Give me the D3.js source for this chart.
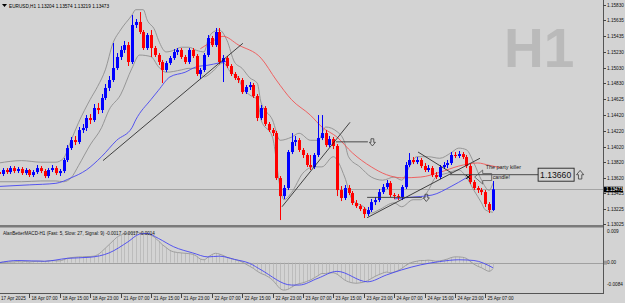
<!DOCTYPE html>
<html>
<head>
<meta charset="utf-8">
<script src="https://cdn.jsdelivr.net/npm/d3@7"></script>
<style>
  html, body { margin: 0; padding: 0; background: #d3d3d3; }
  svg { display: block; font-family: "Liberation Sans", Arial, sans-serif; }
</style>
</head>
<body>
<svg id="chart" width="625" height="303"></svg>
<script>
// EURUSD H1 candles, 17 Apr 23:00 .. 25 Apr 09:00 (131 bars)
const openP = [
  1.13694,1.13669,1.13720,1.13694,1.13745,1.13707,1.13733,1.13681,1.13720,1.13656,
  1.13694,1.13745,1.13707,1.13643,1.13720,1.13745,1.13681,1.13707,1.13848,1.14001,
  1.14103,1.14078,1.14231,1.14257,1.14385,1.14359,1.14513,1.14487,1.14641,1.14769,
  1.14871,1.15024,1.15165,1.15255,1.15318,1.15101,1.15574,1.15613,1.15485,1.15280,
  1.15446,1.15280,1.15191,1.15101,1.14999,1.15088,1.15152,1.15229,1.15255,1.15165,
  1.15101,1.15255,1.15178,1.14948,1.14999,1.15191,1.15408,1.15318,1.15485,1.15101,
  1.15152,1.15050,1.14948,1.14896,1.14871,1.14717,1.14781,1.14807,1.14666,1.14385,
  1.14513,1.14308,1.14231,1.14193,1.13617,1.13387,1.13490,1.13950,1.14078,1.14103,
  1.13976,1.13912,1.13784,1.13758,1.13912,1.14129,1.14193,1.14039,1.14116,1.14027,
  1.13464,1.13362,1.13490,1.13426,1.13298,1.13259,1.13221,1.13157,1.13208,1.13310,
  1.13336,1.13438,1.13502,1.13553,1.13400,1.13387,1.13374,1.13502,1.13784,1.13848,
  1.13822,1.13848,1.13771,1.13720,1.13745,1.13656,1.13630,1.13758,1.13784,1.13809,
  1.13912,1.13899,1.13924,1.13886,1.13771,1.13566,1.13490,1.13464,1.13438,1.13285,
  1.13208
];
const highP = [
  1.13733,1.13745,1.13745,1.13771,1.13771,1.13758,1.13758,1.13745,1.13733,1.13720,
  1.13784,1.13771,1.13733,1.13745,1.13784,1.13771,1.13733,1.13873,1.14039,1.14142,
  1.14155,1.14270,1.14308,1.14423,1.14436,1.14564,1.14577,1.14692,1.14820,1.14922,
  1.15344,1.15216,1.15306,1.15370,1.15357,1.15702,1.15651,1.15740,1.15510,1.15472,
  1.15510,1.15306,1.15216,1.15127,1.15114,1.15178,1.15267,1.15280,1.15280,1.15191,
  1.15280,1.15280,1.15203,1.15024,1.15216,1.15446,1.15434,1.15536,1.15536,1.15191,
  1.15178,1.15075,1.14973,1.14922,1.14896,1.14807,1.14845,1.14832,1.14692,1.14551,
  1.14538,1.14334,1.14257,1.14219,1.13643,1.13528,1.13976,1.14193,1.14155,1.14129,
  1.14001,1.13937,1.13912,1.13937,1.14423,1.14423,1.14231,1.14155,1.14142,1.14052,
  1.13515,1.13528,1.13528,1.13451,1.13336,1.13285,1.13247,1.13247,1.13349,1.13374,
  1.13477,1.13541,1.13592,1.13579,1.13426,1.13413,1.13528,1.13822,1.13937,1.13886,
  1.13886,1.13873,1.13809,1.13784,1.13771,1.13694,1.13784,1.13822,1.13848,1.13950,
  1.13950,1.13963,1.13950,1.13912,1.13796,1.13592,1.13515,1.13490,1.13464,1.13310,
  1.13579
];
const lowP = [
  1.13630,1.13643,1.13669,1.13669,1.13681,1.13681,1.13656,1.13656,1.13630,1.13630,
  1.13669,1.13681,1.13617,1.13617,1.13694,1.13656,1.13643,1.13681,1.13822,1.13976,
  1.14039,1.14052,1.14193,1.14219,1.14308,1.14334,1.14436,1.14449,1.14615,1.14730,
  1.14845,1.14999,1.15127,1.15216,1.15050,1.15075,1.15536,1.15459,1.15255,1.15255,
  1.15165,1.15165,1.15063,1.14832,1.14973,1.15063,1.15127,1.15191,1.15139,1.15075,
  1.15075,1.15152,1.14922,1.14884,1.14973,1.15165,1.15293,1.15293,1.15075,1.14845,
  1.15024,1.14922,1.14871,1.14832,1.14692,1.14692,1.14743,1.14641,1.14346,1.14359,
  1.14283,1.14206,1.14155,1.13592,1.13080,1.13349,1.13464,1.13924,1.14027,1.13950,
  1.13873,1.13758,1.13720,1.13733,1.13886,1.14103,1.14014,1.14014,1.13988,1.13387,
  1.13323,1.13336,1.13400,1.13272,1.13234,1.13195,1.13106,1.13131,1.13183,1.13272,
  1.13310,1.13413,1.13477,1.13374,1.13349,1.13336,1.13336,1.13477,1.13758,1.13796,
  1.13796,1.13745,1.13694,1.13694,1.13630,1.13605,1.13605,1.13733,1.13745,1.13784,
  1.13873,1.13873,1.13860,1.13745,1.13541,1.13464,1.13426,1.13400,1.13247,1.13170,
  1.13195
];
const closeP = [
  1.13669,1.13720,1.13694,1.13745,1.13707,1.13733,1.13681,1.13720,1.13656,1.13694,
  1.13745,1.13707,1.13643,1.13720,1.13745,1.13681,1.13707,1.13848,1.14001,1.14103,
  1.14078,1.14231,1.14257,1.14385,1.14359,1.14513,1.14487,1.14641,1.14769,1.14871,
  1.15024,1.15165,1.15255,1.15318,1.15101,1.15574,1.15613,1.15485,1.15280,1.15446,
  1.15280,1.15191,1.15101,1.14999,1.15088,1.15152,1.15229,1.15255,1.15165,1.15101,
  1.15255,1.15178,1.14948,1.14999,1.15191,1.15408,1.15318,1.15485,1.15101,1.15152,
  1.15050,1.14948,1.14896,1.14871,1.14717,1.14781,1.14807,1.14666,1.14385,1.14513,
  1.14308,1.14231,1.14193,1.13617,1.13387,1.13490,1.13950,1.14078,1.14103,1.13976,
  1.13912,1.13784,1.13758,1.13912,1.14129,1.14193,1.14039,1.14116,1.14027,1.13464,
  1.13362,1.13490,1.13426,1.13298,1.13259,1.13221,1.13157,1.13208,1.13310,1.13336,
  1.13438,1.13502,1.13553,1.13400,1.13387,1.13374,1.13502,1.13784,1.13848,1.13822,
  1.13848,1.13771,1.13720,1.13745,1.13656,1.13630,1.13758,1.13784,1.13809,1.13912,
  1.13899,1.13924,1.13886,1.13771,1.13566,1.13490,1.13464,1.13438,1.13285,1.13208,
  1.13473
];

// indicator lines: [bar index, price]
const bandUpper = [[0,1.1381],[6,1.1384],[11,1.1382],[15,1.1382],[17,1.1387],[19,1.1410],[21,1.1433],[24,1.1462],[26,1.1479],[28,1.1500],[30,1.1534],[32,1.1551],[35,1.1570],[36,1.1577],[38,1.1577],[39,1.1564],[41,1.1551],[42,1.1538],[44,1.1523],[46,1.1525],[48,1.1529],[50,1.1529],[52,1.1525],[54,1.1523],[55,1.1538],[56,1.1547],[58,1.1551],[60,1.1538],[62,1.1510],[64,1.1502],[66,1.1490],[68,1.1483],[69,1.1458],[72,1.1436],[74,1.1410],[77,1.1414],[79,1.1419],[82,1.1410],[84,1.1410],[86,1.1427],[89,1.1421],[91,1.1407],[92,1.1389],[95,1.1376],[98,1.1363],[101,1.1359],[104,1.1363],[106,1.1359],[108,1.1376],[110,1.1389],[113,1.1389],[116,1.1387],[119,1.1394],[121,1.1400],[123,1.1398],[125,1.1381],[127,1.1359],[129,1.1346],[130,1.1355]];
const bandLower = [[0,1.1357],[6,1.1357],[11,1.1358],[15,1.1358],[17,1.1357],[19,1.1362],[21,1.1378],[24,1.1404],[27,1.1426],[29,1.1449],[32,1.1468],[35,1.1502],[37,1.1519],[40,1.1517],[42,1.1504],[44,1.1497],[48,1.1500],[50,1.1502],[52,1.1502],[54,1.1491],[56,1.1497],[59,1.1509],[61,1.1497],[63,1.1490],[64,1.1478],[66,1.1468],[68,1.1462],[69,1.1436],[72,1.1414],[74,1.1350],[75,1.1334],[77,1.1343],[80,1.1368],[83,1.1376],[85,1.1376],[88,1.1389],[91,1.1363],[93,1.1334],[96,1.1325],[98,1.1317],[100,1.1321],[104,1.1330],[106,1.1325],[109,1.1334],[111,1.1334],[113,1.1346],[115,1.1363],[118,1.1368],[121,1.1372],[123,1.1363],[125,1.1346],[127,1.1330],[128,1.1321],[130,1.1318]];
const redLine = [[53,1.1527],[56,1.1536],[59,1.1543],[63,1.1532],[69,1.1515],[73,1.1487],[77,1.1462],[82,1.1442],[85,1.1427],[89,1.1414],[93,1.1394],[98,1.1376],[102,1.1366],[106,1.1362],[111,1.1363],[116,1.1369],[121,1.1377],[126,1.1381],[129,1.1378],[132,1.1375]];
const blueLine1 = [[0,1.1351],[8,1.1353],[15,1.1355],[19,1.1362],[23,1.1372],[27,1.1389],[31,1.1410],[35,1.1426],[36,1.1436],[40,1.1462],[42,1.1474],[45,1.1491],[49,1.1497],[52,1.1504],[55,1.1506],[58,1.1509],[60,1.1511]];
const blueLine2 = [[104,1.1335],[108,1.1337],[114,1.1340],[119,1.1351],[123,1.1362]];

// MACD (5, 27, 9): main per bar, signal read at points
const macdMain = [
  0.0000,0.0001,0.0001,0.0002,0.0002,0.0003,0.0002,0.0003,0.0002,0.0003,
  0.0004,0.0004,0.0003,0.0005,0.0006,0.0005,0.0005,0.0008,0.0012,0.0014,
  0.0015,0.0016,0.0016,0.0017,0.0017,0.0018,0.0022,0.0030,0.0040,0.0050,
  0.0060,0.0070,0.0076,0.0080,0.0082,0.0083,0.0084,0.0083,0.0081,0.0079,
  0.0076,0.0070,0.0060,0.0050,0.0042,0.0034,0.0030,0.0028,0.0027,0.0026,
  0.0025,0.0023,0.0018,0.0010,0.0008,0.0015,0.0022,0.0026,0.0024,0.0020,
  0.0015,0.0012,0.0009,0.0006,0.0002,-0.0004,-0.0010,-0.0016,-0.0024,-0.0030,
  -0.0034,-0.0040,-0.0048,-0.0060,-0.0072,-0.0076,-0.0074,-0.0068,-0.0062,-0.0058,
  -0.0056,-0.0052,-0.0048,-0.0042,-0.0036,-0.0030,-0.0030,-0.0028,-0.0028,-0.0032,
  -0.0040,-0.0048,-0.0053,-0.0056,-0.0057,-0.0056,-0.0054,-0.0050,-0.0044,-0.0038,
  -0.0033,-0.0029,-0.0026,-0.0028,-0.0026,-0.0022,-0.0016,-0.0008,-0.0002,0.0002,
  0.0004,0.0006,0.0006,0.0007,0.0006,0.0004,0.0005,0.0007,0.0010,0.0014,
  0.0016,0.0016,0.0015,0.0012,0.0004,-0.0004,-0.0010,-0.0014,-0.0020,-0.0024,
  -0.0017
];
const macdSignal = [[0,0],[5,0.0006],[12,0.0004],[18,0.0012],[24,0.0015],[29,0.0027],[34,0.0058],[37,0.0079],[39,0.0081],[42,0.0067],[46,0.0044],[51,0.0027],[55,0.0016],[58,0.0018],[62,0.0009],[66,-0.0002],[69,-0.0020],[77,-0.0062],[79,-0.0062],[84,-0.0043],[89,-0.0024],[97,-0.0053],[102,-0.0034],[106,-0.0020],[111,-0.0006],[116,0.0003],[121,0.0008],[125,0.0006],[130,-0.0014]];

// axes
const priceLabels = ["1.15830","1.15635","1.15435","1.15230","1.15030","1.14830","1.14625","1.14420","1.14220","1.14020","1.13820","1.13620","1.13425","1.13225","1.13025"];
const timeBars = [0,8,16,24,32,40,48,56,64,72,80,88,96,104,112,120,128];
const timeLabels = ["17 Apr 2025","18 Apr 07:00","18 Apr 15:00","18 Apr 23:00","21 Apr 07:00","21 Apr 15:00","21 Apr 23:00","22 Apr 07:00","22 Apr 15:00","22 Apr 23:00","23 Apr 07:00","23 Apr 15:00","23 Apr 23:00","24 Apr 07:00","24 Apr 15:00","24 Apr 23:00","25 Apr 07:00"];
const lastPrice = 1.13473;

// hand drawn objects on the chart: [bar1, price1, bar2, price2]
const trendLines = [[27.4,1.1384,64.2,1.1534],[74.5,1.1325,92.4,1.1433],[96.9,1.1311,126.6,1.1387],[110.3,1.1395,119.2,1.1368]];
const hLines = [[88.7,97.1,1.1408],[96.9,111.3,1.1337],[118.7,141.9,1.13660]];

const svg = d3.select('#chart');
const axisX = 603;

const x = d3.scaleLinear().domain([0, 130]).range([-1.1, 492.9]);
const y = d3.scaleLinear().domain([1.13004, 1.15894]).range([226, 0]);
const ym = d3.scaleLinear().domain([-0.0084, 0.0096]).range([293, 228]);

const defs = svg.append('defs');
defs.append('clipPath').attr('id', 'clipMain').append('rect').attr('x', 0).attr('y', 0).attr('width', axisX).attr('height', 225);
defs.append('clipPath').attr('id', 'clipMacd').append('rect').attr('x', 0).attr('y', 228).attr('width', axisX).attr('height', 65);

svg.append('rect').attr('width', 625).attr('height', 303).attr('fill', '#d3d3d3');

// watermark
svg.append('text').attr('x', 504).attr('y', 67).attr('font-size', 55).attr('font-weight', 'bold')
  .attr('fill', '#bababa').text('H1');

const main = svg.append('g').attr('clip-path', 'url(#clipMain)');

// last price line
main.append('line').attr('x1', 0).attr('x2', axisX)
  .attr('y1', Math.round(y(lastPrice)) + 0.5).attr('y2', Math.round(y(lastPrice)) + 0.5)
  .attr('stroke', '#a4a4a4').attr('stroke-width', 1);

const lineP = d3.line().x(d => x(d[0])).y(d => y(d[1])).curve(d3.curveMonotoneX);
[bandUpper, bandLower].forEach(b => {
  main.append('path').attr('d', lineP(b)).attr('fill', 'none').attr('stroke', '#8e8e8e').attr('stroke-width', 0.9);
});
main.append('path').attr('d', lineP(redLine)).attr('fill', 'none').attr('stroke', '#f05555').attr('stroke-width', 0.9);
[blueLine1, blueLine2].forEach(b => {
  main.append('path').attr('d', lineP(b)).attr('fill', 'none').attr('stroke', '#4646f0').attr('stroke-width', 0.9);
});

// candles
const bars = d3.range(openP.length);
const col = i => closeP[i] >= openP[i] ? '#0000ff' : '#ff0000';
main.selectAll('line.wick').data(bars).join('line').attr('class', 'wick')
  .attr('x1', i => Math.round(x(i)) + 0.5).attr('x2', i => Math.round(x(i)) + 0.5)
  .attr('y1', i => y(highP[i])).attr('y2', i => y(lowP[i]))
  .attr('stroke', col).attr('stroke-width', 1);
main.selectAll('rect.body').data(bars).join('rect').attr('class', 'body')
  .attr('x', i => Math.round(x(i)) - 1).attr('width', 3)
  .attr('y', i => y(Math.max(openP[i], closeP[i])))
  .attr('height', i => Math.max(1, Math.abs(y(openP[i]) - y(closeP[i]))))
  .attr('fill', col);

// drawn objects
trendLines.forEach(t => {
  main.append('line').attr('x1', x(t[0])).attr('y1', y(t[1])).attr('x2', x(t[2])).attr('y2', y(t[3]))
    .attr('stroke', '#1a1a1a').attr('stroke-width', 0.8);
});
hLines.forEach(h => {
  main.append('line').attr('x1', x(h[0])).attr('x2', x(h[1])).attr('y1', y(h[2])).attr('y2', y(h[2]))
    .attr('stroke', '#3a3a3a').attr('stroke-width', 0.9);
});

// hollow block arrow, dir = 1 points down, -1 points up
function hollowArrow(cx, cy, s, dir) {
  const h = 3.6 * s, w = 3 * s, sw = 1.4 * s;
  const d = `M${cx - sw},${cy - dir * h} L${cx + sw},${cy - dir * h} L${cx + sw},${cy} L${cx + w},${cy}` +
            ` L${cx},${cy + dir * h} L${cx - w},${cy} L${cx - sw},${cy} Z`;
  main.append('path').attr('d', d).attr('fill', 'none').attr('stroke', '#3c3c3c').attr('stroke-width', 0.8);
}
hollowArrow(x(hLines[0][1]) + 4.5, y(hLines[0][2]) + 0.5, 1, 1);
hollowArrow(x(hLines[1][1]) + 4.5, y(hLines[1][2]) + 0.5, 1, 1);

// price box at the end of the long line
const hb = hLines[2];
const bx = x(hb[1]), byy = y(hb[2]);
main.append('rect').attr('x', bx).attr('y', byy - 6.5).attr('width', 36).attr('height', 13)
  .attr('fill', 'none').attr('stroke', '#222').attr('stroke-width', 0.9);
main.append('text').attr('x', bx + 2).attr('y', byy + 3.3).attr('font-size', 8.6).attr('fill', '#111').text('1.13660');
hollowArrow(bx + 42, byy, 1.2, -1);

// "party killer" note with hollow left arrow
const ax = x(125.2), ay = y(1.13630);
main.append('path')
  .attr('d', `M${ax},${ay} L${ax + 8},${ay - 7} L${ax + 8},${ay - 3.5} L${ax + 17},${ay - 3.5} L${ax + 17},${ay + 3.5} L${ax + 8},${ay + 3.5} L${ax + 8},${ay + 7} Z`)
  .attr('fill', 'none').attr('stroke', '#555').attr('stroke-width', 0.8);
main.append('text').attr('x', ax + 11).attr('y', ay - 8).attr('font-size', 5.4).attr('fill', '#222').text('The party killer');
main.append('text').attr('x', ax + 18).attr('y', ay + 1.5).attr('font-size', 5.4).attr('fill', '#222').text('candle!');
const mx = x(123.5), my = y(1.13630);
main.append('path').attr('d', `M${mx - 2},${my - 2} L${mx + 2},${my + 2} M${mx + 2},${my - 2} L${mx - 2},${my + 2}`)
  .attr('stroke', '#000').attr('stroke-width', 1);

// title
svg.append('path').attr('d', 'M2,4 L7,4 L4.5,7 Z').attr('fill', '#000');
svg.append('text').attr('x', 9).attr('y', 8).attr('font-size', 4.7).attr('fill', '#000')
  .text('EURUSD,H1  1.13204 1.13574 1.13219 1.13473');

// MACD panel
const macd = svg.append('g').attr('clip-path', 'url(#clipMacd)');
macd.append('line').attr('x1', 0).attr('x2', axisX).attr('y1', Math.round(ym(0)) + 0.5).attr('y2', Math.round(ym(0)) + 0.5)
  .attr('stroke', '#a0a0a0').attr('stroke-width', 1);
macd.selectAll('line.hist').data(bars).join('line').attr('class', 'hist')
  .attr('x1', i => Math.round(x(i)) + 0.5).attr('x2', i => Math.round(x(i)) + 0.5)
  .attr('y1', ym(0)).attr('y2', i => ym(macdMain[i]))
  .attr('stroke', '#b2b2b2').attr('stroke-width', 0.7);
const lineM = d3.line().x(d => x(d[0])).y(d => ym(d[1])).curve(d3.curveMonotoneX);
macd.append('path').attr('d', lineM(bars.map(i => [i, macdMain[i]]))).attr('fill', 'none')
  .attr('stroke', '#989898').attr('stroke-width', 0.9);
macd.append('path').attr('d', lineM(macdSignal)).attr('fill', 'none')
  .attr('stroke', '#4646f0').attr('stroke-width', 0.9);
svg.append('text').attr('x', 3).attr('y', 235).attr('font-size', 4.6).attr('fill', '#111')
  .text('AlanBetterMACD-H1 (Fast: 5, Slow: 27, Signal: 9) -0.0017 -0.0017 -0.0014');

// frame
svg.append('rect').attr('x', 0).attr('y', 225).attr('width', axisX).attr('height', 2.5).attr('fill', '#7a7a7a');
svg.append('line').attr('x1', 0).attr('x2', axisX + 0.5).attr('y1', 293.5).attr('y2', 293.5).attr('stroke', '#555').attr('stroke-width', 1);
svg.append('line').attr('x1', axisX + 0.5).attr('x2', axisX + 0.5).attr('y1', 0).attr('y2', 294).attr('stroke', '#555').attr('stroke-width', 1);

// price axis
priceLabels.forEach(t => {
  const yy = Math.round(y(+t)) + 0.5;
  svg.append('line').attr('x1', axisX).attr('x2', axisX + 3).attr('y1', yy).attr('y2', yy).attr('stroke', '#444');
  svg.append('text').attr('x', 607).attr('y', yy + 1.7).attr('font-size', 4.7).attr('fill', '#111').text(t);
});
const ly = Math.round(y(lastPrice)) + 0.5;
svg.append('rect').attr('x', axisX + 1).attr('y', ly - 2.8).attr('width', 19).attr('height', 5.6).attr('fill', '#000');
svg.append('text').attr('x', 606).attr('y', ly + 1.7).attr('font-size', 4.7).attr('fill', '#fff').text(lastPrice.toFixed(5));

// MACD axis
[['0.009', ym(0.0096) + 3], ['0.00', ym(0)], ['-0.0084', ym(-0.0084) - 9]].forEach(m => {
  svg.append('text').attr('x', 607).attr('y', m[1] + 1.7).attr('font-size', 4.7).attr('fill', '#111').text(m[0]);
});
svg.append('rect').attr('x', axisX + 1).attr('y', ym(0) - 2).attr('width', 3).attr('height', 4).attr('fill', '#9a9a9a');

// time axis
timeBars.forEach((b, k) => {
  const tx = Math.round(x(b)) + 0.5;
  if (k > 0) {
    svg.append('line').attr('x1', tx).attr('x2', tx).attr('y1', 294).attr('y2', 298).attr('stroke', '#444');
  }
  svg.append('text').attr('x', k > 0 ? tx + 2 : 1).attr('y', 300).attr('font-size', 4.6).attr('fill', '#111').text(timeLabels[k]);
});
</script>
</body>
</html>
